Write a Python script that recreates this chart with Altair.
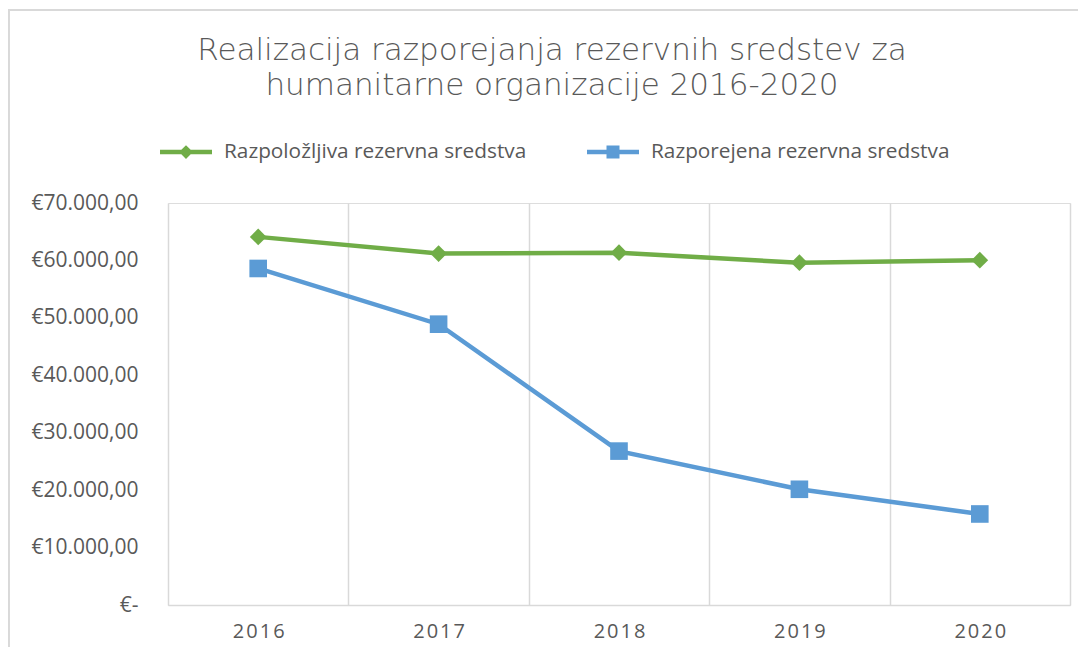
import altair as alt
import pandas as pd

years = ["2016", "2017", "2018", "2019", "2020"]
series_names = ["Razpoložljiva rezervna sredstva", "Razporejena rezervna sredstva"]
available = [64100, 61200, 61350, 59600, 60050]
allocated = [58600, 48900, 26800, 20150, 15850]
y_ticks = [0, 10000, 20000, 30000, 40000, 50000, 60000, 70000]
title_lines = ["Realizacija razporejanja rezervnih sredstev za",
               "humanitarne organizacije 2016-2020"]

GREEN = "#70AD47"
BLUE = "#5B9BD5"
GRID = "#D9D9D9"
TXT = "#595959"
FONT = "Open Sans"

rows = []
for y, v in zip(years, available):
    rows.append({"year": y, "series": series_names[0], "value": v})
for y, v in zip(years, allocated):
    rows.append({"year": y, "series": series_names[1], "value": v})
df = pd.DataFrame(rows)

DIAMOND_LINE = ("M-1,-0.087L-0.18,-0.087L0,-0.267L0.18,-0.087L1,-0.087L1,0.087"
                "L0.18,0.087L0,0.267L-0.18,0.087L-1,0.087Z")
SQUARE_LINE = ("M-1,-0.087L-0.25,-0.087L-0.25,-0.25L0.25,-0.25L0.25,-0.087L1,-0.087"
               "L1,0.087L0.25,0.087L0.25,0.25L-0.25,0.25L-0.25,0.087L-1,0.087Z")

color_scale = alt.Scale(domain=series_names, range=[GREEN, BLUE])
shape_scale = alt.Scale(domain=series_names, range=[DIAMOND_LINE, SQUARE_LINE])

x_enc = alt.X(
    "year:N",
    sort=years,
    scale=alt.Scale(paddingInner=0, paddingOuter=0),
    axis=alt.Axis(
        title=None,
        grid=True,
        tickBand="extent",
        gridColor=GRID,
        gridWidth=1.5,
        domainColor=GRID,
        domainWidth=1.5,
        ticks=False,
        labelAngle=0,
        labelFont=FONT,
        labelFontSize=20,
        labelColor=TXT,
        labelPadding=16,
        labelExpr="join(split(datum.label, ''), '\u200a')",
    ),
)
y_enc = alt.Y(
    "value:Q",
    scale=alt.Scale(domain=[0, 70000], nice=False),
    axis=alt.Axis(
        title=None,
        values=y_ticks,
        grid=False,
        domain=False,
        ticks=False,
        labelFont=FONT,
        labelFontSize=21,
        labelColor=TXT,
        labelPadding=30,
        labelExpr=("datum.value == 0 ? '€-\u00a0\u00a0' : '€' + "
                   "replace(replace(replace(format(datum.value, ',.2f'), ',', '#'), '.', ','), '#', '.')"),
    ),
)

base = alt.Chart(df)

lines = base.mark_line(strokeWidth=4.5).encode(
    x=x_enc,
    y=y_enc,
    color=alt.Color("series:N", scale=color_scale, legend=None),
)

diamonds = base.transform_filter(
    alt.datum.series == series_names[0]
).mark_point(shape="diamond", filled=True, size=280, opacity=1).encode(
    x="year:N",
    y="value:Q",
    color=alt.Color("series:N", scale=color_scale, legend=None),
)

squares = base.transform_filter(
    alt.datum.series == series_names[1]
).mark_point(shape="square", filled=True, size=310, opacity=1).encode(
    x="year:N",
    y="value:Q",
    color=alt.Color("series:N", scale=color_scale, legend=None),
)

legend_cfg = dict(
    title=None,
    orient="none",
    legendX=-8,
    legendY=-77,
    direction="horizontal",
    labelFont=FONT,
    labelFontSize=20.8,
    labelColor=TXT,
    labelOffset=12,
    columnPadding=60,
    symbolSize=2704,
    symbolStrokeWidth=0,
    symbolOpacity=1,
    padding=0,
    labelLimit=400,
)

# legend-only layer: draws no marks in the plot, only supplies the legend
legend_layer = base.transform_filter("false").mark_point(
    filled=True, size=2704, opacity=1
).encode(
    x="year:N",
    y="value:Q",
    color=alt.Color("series:N", scale=color_scale, legend=alt.Legend(**legend_cfg)),
    shape=alt.Shape("series:N", scale=shape_scale, legend=alt.Legend(**legend_cfg)),
)

border_top = base.mark_rule(color=GRID, strokeWidth=2).encode(
    x=alt.value(-160), x2=alt.value(1000), y=alt.value(-193)
)
border_left = base.mark_rule(color=GRID, strokeWidth=2).encode(
    x=alt.value(-159.5), y=alt.value(-193), y2=alt.value(450)
)

chart = alt.layer(
    border_top, border_left, lines, diamonds, squares, legend_layer
).resolve_legend(
    color="independent", shape="independent"
).properties(
    width=902,
    height=402,
    padding={"left": 160, "top": 195, "right": 8, "bottom": 42},
    autosize=alt.AutoSizeParams(type="none"),
    title=alt.TitleParams(
        text=title_lines,
        font="DejaVu Sans",
        fontSize=31,
        fontWeight=300,
        color=TXT,
        anchor="middle",
        baseline="top",
        dx=-67,
        lineHeight=35,
        offset=-93,
    ),
).configure_view(stroke=None).configure(background="white")

chart.save("out.html", embed_options={"renderer": "svg", "actions": False})
